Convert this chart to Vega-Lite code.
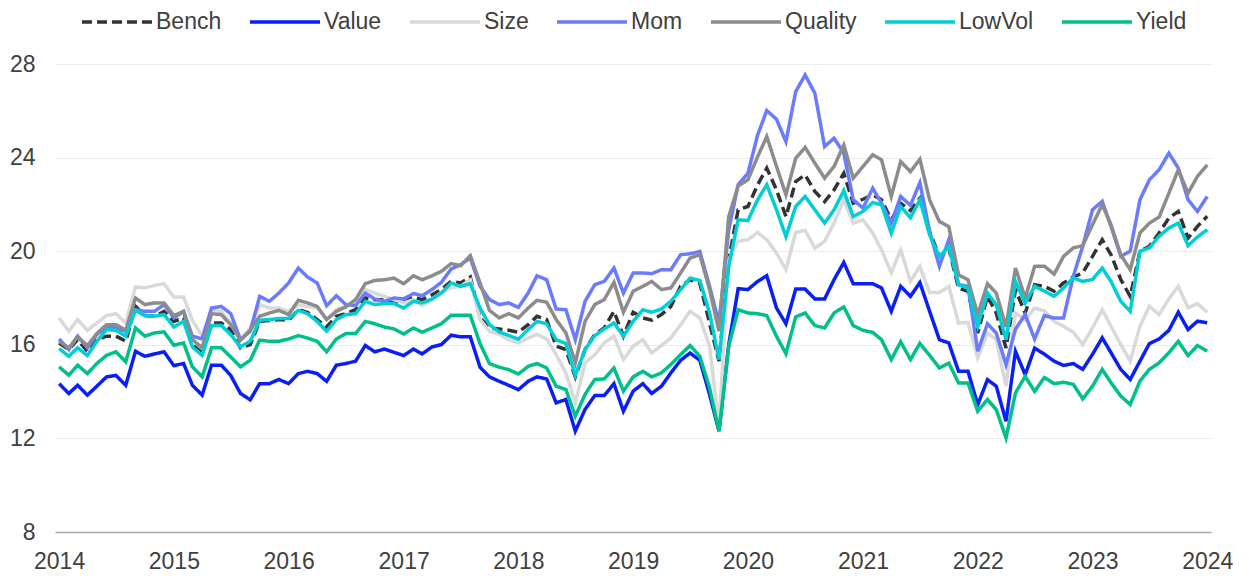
{
"$schema":"https://vega.github.io/schema/vega-lite/v6.json",
"width":1156,"height":468,
"autosize":"none",
"padding":{"left":55,"top":64,"right":38,"bottom":46},
"background":"white",
"config":{"view":{"stroke":null},"font":"Liberation Sans"},
"data":{"values":[
{"date":"2014-01","series":"Bench","value":16.08},{"date":"2014-02","series":"Bench","value":15.80},{"date":"2014-03","series":"Bench","value":16.22},{"date":"2014-04","series":"Bench","value":15.72},{"date":"2014-05","series":"Bench","value":16.22},{"date":"2014-06","series":"Bench","value":16.37},{"date":"2014-07","series":"Bench","value":16.37},{"date":"2014-08","series":"Bench","value":16.15},{"date":"2014-09","series":"Bench","value":17.64},{"date":"2014-10","series":"Bench","value":17.25},{"date":"2014-11","series":"Bench","value":17.22},{"date":"2014-12","series":"Bench","value":17.43},
{"date":"2015-01","series":"Bench","value":17.00},{"date":"2015-02","series":"Bench","value":17.15},{"date":"2015-03","series":"Bench","value":16.01},{"date":"2015-04","series":"Bench","value":15.65},{"date":"2015-05","series":"Bench","value":16.93},{"date":"2015-06","series":"Bench","value":16.93},{"date":"2015-07","series":"Bench","value":16.65},{"date":"2015-08","series":"Bench","value":15.87},{"date":"2015-09","series":"Bench","value":16.01},{"date":"2015-10","series":"Bench","value":17.00},{"date":"2015-11","series":"Bench","value":17.04},{"date":"2015-12","series":"Bench","value":17.08},
{"date":"2016-01","series":"Bench","value":17.05},{"date":"2016-02","series":"Bench","value":17.50},{"date":"2016-03","series":"Bench","value":17.39},{"date":"2016-04","series":"Bench","value":17.08},{"date":"2016-05","series":"Bench","value":16.76},{"date":"2016-06","series":"Bench","value":17.22},{"date":"2016-07","series":"Bench","value":17.33},{"date":"2016-08","series":"Bench","value":17.50},{"date":"2016-09","series":"Bench","value":18.00},{"date":"2016-10","series":"Bench","value":17.93},{"date":"2016-11","series":"Bench","value":17.93},{"date":"2016-12","series":"Bench","value":17.79},
{"date":"2017-01","series":"Bench","value":17.90},{"date":"2017-02","series":"Bench","value":18.04},{"date":"2017-03","series":"Bench","value":17.93},{"date":"2017-04","series":"Bench","value":18.14},{"date":"2017-05","series":"Bench","value":18.36},{"date":"2017-06","series":"Bench","value":18.71},{"date":"2017-07","series":"Bench","value":18.64},{"date":"2017-08","series":"Bench","value":18.90},{"date":"2017-09","series":"Bench","value":17.15},{"date":"2017-10","series":"Bench","value":16.72},{"date":"2017-11","series":"Bench","value":16.68},{"date":"2017-12","series":"Bench","value":16.62},
{"date":"2018-01","series":"Bench","value":16.54},{"date":"2018-02","series":"Bench","value":16.86},{"date":"2018-03","series":"Bench","value":17.22},{"date":"2018-04","series":"Bench","value":17.08},{"date":"2018-05","series":"Bench","value":15.94},{"date":"2018-06","series":"Bench","value":15.80},{"date":"2018-07","series":"Bench","value":14.63},{"date":"2018-08","series":"Bench","value":15.80},{"date":"2018-09","series":"Bench","value":16.44},{"date":"2018-10","series":"Bench","value":16.72},{"date":"2018-11","series":"Bench","value":17.43},{"date":"2018-12","series":"Bench","value":16.37},
{"date":"2019-01","series":"Bench","value":17.39},{"date":"2019-02","series":"Bench","value":17.15},{"date":"2019-03","series":"Bench","value":17.05},{"date":"2019-04","series":"Bench","value":17.29},{"date":"2019-05","series":"Bench","value":17.64},{"date":"2019-06","series":"Bench","value":18.50},{"date":"2019-07","series":"Bench","value":18.78},{"date":"2019-08","series":"Bench","value":18.64},{"date":"2019-09","series":"Bench","value":16.93},{"date":"2019-10","series":"Bench","value":15.30},{"date":"2019-11","series":"Bench","value":19.64},{"date":"2019-12","series":"Bench","value":21.77},
{"date":"2020-01","series":"Bench","value":21.91},{"date":"2020-02","series":"Bench","value":22.84},{"date":"2020-03","series":"Bench","value":23.55},{"date":"2020-04","series":"Bench","value":22.62},{"date":"2020-05","series":"Bench","value":21.48},{"date":"2020-06","series":"Bench","value":22.98},{"date":"2020-07","series":"Bench","value":23.26},{"date":"2020-08","series":"Bench","value":22.55},{"date":"2020-09","series":"Bench","value":22.12},{"date":"2020-10","series":"Bench","value":22.62},{"date":"2020-11","series":"Bench","value":23.33},{"date":"2020-12","series":"Bench","value":22.05},
{"date":"2021-01","series":"Bench","value":22.22},{"date":"2021-02","series":"Bench","value":22.41},{"date":"2021-03","series":"Bench","value":22.20},{"date":"2021-04","series":"Bench","value":21.34},{"date":"2021-05","series":"Bench","value":22.05},{"date":"2021-06","series":"Bench","value":21.74},{"date":"2021-07","series":"Bench","value":22.26},{"date":"2021-08","series":"Bench","value":20.84},{"date":"2021-09","series":"Bench","value":19.77},{"date":"2021-10","series":"Bench","value":20.13},{"date":"2021-11","series":"Bench","value":18.42},{"date":"2021-12","series":"Bench","value":18.28},
{"date":"2022-01","series":"Bench","value":16.50},{"date":"2022-02","series":"Bench","value":18.07},{"date":"2022-03","series":"Bench","value":17.36},{"date":"2022-04","series":"Bench","value":15.86},{"date":"2022-05","series":"Bench","value":18.35},{"date":"2022-06","series":"Bench","value":17.36},{"date":"2022-07","series":"Bench","value":18.57},{"date":"2022-08","series":"Bench","value":18.50},{"date":"2022-09","series":"Bench","value":18.29},{"date":"2022-10","series":"Bench","value":18.64},{"date":"2022-11","series":"Bench","value":18.90},{"date":"2022-12","series":"Bench","value":19.07},
{"date":"2023-01","series":"Bench","value":19.78},{"date":"2023-02","series":"Bench","value":20.49},{"date":"2023-03","series":"Bench","value":19.85},{"date":"2023-04","series":"Bench","value":18.79},{"date":"2023-05","series":"Bench","value":18.07},{"date":"2023-06","series":"Bench","value":20.00},{"date":"2023-07","series":"Bench","value":20.21},{"date":"2023-08","series":"Bench","value":20.78},{"date":"2023-09","series":"Bench","value":21.42},{"date":"2023-10","series":"Bench","value":21.70},{"date":"2023-11","series":"Bench","value":20.56},{"date":"2023-12","series":"Bench","value":21.06},
{"date":"2024-01","series":"Bench","value":21.49},
{"date":"2014-01","series":"Value","value":14.34},{"date":"2014-02","series":"Value","value":13.92},{"date":"2014-03","series":"Value","value":14.27},{"date":"2014-04","series":"Value","value":13.85},{"date":"2014-05","series":"Value","value":14.23},{"date":"2014-06","series":"Value","value":14.63},{"date":"2014-07","series":"Value","value":14.69},{"date":"2014-08","series":"Value","value":14.27},{"date":"2014-09","series":"Value","value":15.72},{"date":"2014-10","series":"Value","value":15.51},{"date":"2014-11","series":"Value","value":15.61},{"date":"2014-12","series":"Value","value":15.70},
{"date":"2015-01","series":"Value","value":15.11},{"date":"2015-02","series":"Value","value":15.20},{"date":"2015-03","series":"Value","value":14.27},{"date":"2015-04","series":"Value","value":13.85},{"date":"2015-05","series":"Value","value":15.13},{"date":"2015-06","series":"Value","value":15.13},{"date":"2015-07","series":"Value","value":14.69},{"date":"2015-08","series":"Value","value":13.92},{"date":"2015-09","series":"Value","value":13.65},{"date":"2015-10","series":"Value","value":14.34},{"date":"2015-11","series":"Value","value":14.34},{"date":"2015-12","series":"Value","value":14.52},
{"date":"2016-01","series":"Value","value":14.34},{"date":"2016-02","series":"Value","value":14.77},{"date":"2016-03","series":"Value","value":14.87},{"date":"2016-04","series":"Value","value":14.77},{"date":"2016-05","series":"Value","value":14.44},{"date":"2016-06","series":"Value","value":15.13},{"date":"2016-07","series":"Value","value":15.20},{"date":"2016-08","series":"Value","value":15.30},{"date":"2016-09","series":"Value","value":15.97},{"date":"2016-10","series":"Value","value":15.70},{"date":"2016-11","series":"Value","value":15.82},{"date":"2016-12","series":"Value","value":15.68},
{"date":"2017-01","series":"Value","value":15.54},{"date":"2017-02","series":"Value","value":15.82},{"date":"2017-03","series":"Value","value":15.61},{"date":"2017-04","series":"Value","value":15.91},{"date":"2017-05","series":"Value","value":16.01},{"date":"2017-06","series":"Value","value":16.41},{"date":"2017-07","series":"Value","value":16.34},{"date":"2017-08","series":"Value","value":16.34},{"date":"2017-09","series":"Value","value":15.04},{"date":"2017-10","series":"Value","value":14.63},{"date":"2017-11","series":"Value","value":14.44},{"date":"2017-12","series":"Value","value":14.27},
{"date":"2018-01","series":"Value","value":14.08},{"date":"2018-02","series":"Value","value":14.44},{"date":"2018-03","series":"Value","value":14.63},{"date":"2018-04","series":"Value","value":14.54},{"date":"2018-05","series":"Value","value":13.52},{"date":"2018-06","series":"Value","value":13.66},{"date":"2018-07","series":"Value","value":12.31},{"date":"2018-08","series":"Value","value":13.24},{"date":"2018-09","series":"Value","value":13.83},{"date":"2018-10","series":"Value","value":13.83},{"date":"2018-11","series":"Value","value":14.34},{"date":"2018-12","series":"Value","value":13.16},
{"date":"2019-01","series":"Value","value":14.02},{"date":"2019-02","series":"Value","value":14.34},{"date":"2019-03","series":"Value","value":13.92},{"date":"2019-04","series":"Value","value":14.23},{"date":"2019-05","series":"Value","value":14.80},{"date":"2019-06","series":"Value","value":15.34},{"date":"2019-07","series":"Value","value":15.65},{"date":"2019-08","series":"Value","value":15.34},{"date":"2019-09","series":"Value","value":13.88},{"date":"2019-10","series":"Value","value":12.31},{"date":"2019-11","series":"Value","value":16.00},{"date":"2019-12","series":"Value","value":18.40},
{"date":"2020-01","series":"Value","value":18.36},{"date":"2020-02","series":"Value","value":18.71},{"date":"2020-03","series":"Value","value":18.95},{"date":"2020-04","series":"Value","value":17.57},{"date":"2020-05","series":"Value","value":16.90},{"date":"2020-06","series":"Value","value":18.38},{"date":"2020-07","series":"Value","value":18.38},{"date":"2020-08","series":"Value","value":17.96},{"date":"2020-09","series":"Value","value":17.96},{"date":"2020-10","series":"Value","value":18.78},{"date":"2020-11","series":"Value","value":19.52},{"date":"2020-12","series":"Value","value":18.61},
{"date":"2021-01","series":"Value","value":18.61},{"date":"2021-02","series":"Value","value":18.61},{"date":"2021-03","series":"Value","value":18.43},{"date":"2021-04","series":"Value","value":17.43},{"date":"2021-05","series":"Value","value":18.50},{"date":"2021-06","series":"Value","value":18.07},{"date":"2021-07","series":"Value","value":18.66},{"date":"2021-08","series":"Value","value":17.43},{"date":"2021-09","series":"Value","value":16.22},{"date":"2021-10","series":"Value","value":16.08},{"date":"2021-11","series":"Value","value":14.87},{"date":"2021-12","series":"Value","value":14.87},
{"date":"2022-01","series":"Value","value":13.44},{"date":"2022-02","series":"Value","value":14.51},{"date":"2022-03","series":"Value","value":14.23},{"date":"2022-04","series":"Value","value":12.73},{"date":"2022-05","series":"Value","value":15.72},{"date":"2022-06","series":"Value","value":14.72},{"date":"2022-07","series":"Value","value":15.86},{"date":"2022-08","series":"Value","value":15.60},{"date":"2022-09","series":"Value","value":15.30},{"date":"2022-10","series":"Value","value":15.12},{"date":"2022-11","series":"Value","value":15.20},{"date":"2022-12","series":"Value","value":14.95},
{"date":"2023-01","series":"Value","value":15.59},{"date":"2023-02","series":"Value","value":16.30},{"date":"2023-03","series":"Value","value":15.66},{"date":"2023-04","series":"Value","value":14.95},{"date":"2023-05","series":"Value","value":14.52},{"date":"2023-06","series":"Value","value":15.30},{"date":"2023-07","series":"Value","value":16.05},{"date":"2023-08","series":"Value","value":16.25},{"date":"2023-09","series":"Value","value":16.62},{"date":"2023-10","series":"Value","value":17.39},{"date":"2023-11","series":"Value","value":16.65},{"date":"2023-12","series":"Value","value":17.01},
{"date":"2024-01","series":"Value","value":16.94},
{"date":"2014-01","series":"Size","value":17.15},{"date":"2014-02","series":"Size","value":16.58},{"date":"2014-03","series":"Size","value":17.08},{"date":"2014-04","series":"Size","value":16.62},{"date":"2014-05","series":"Size","value":16.93},{"date":"2014-06","series":"Size","value":17.25},{"date":"2014-07","series":"Size","value":17.33},{"date":"2014-08","series":"Size","value":16.93},{"date":"2014-09","series":"Size","value":18.47},{"date":"2014-10","series":"Size","value":18.43},{"date":"2014-11","series":"Size","value":18.54},{"date":"2014-12","series":"Size","value":18.61},
{"date":"2015-01","series":"Size","value":18.04},{"date":"2015-02","series":"Size","value":18.04},{"date":"2015-03","series":"Size","value":17.05},{"date":"2015-04","series":"Size","value":16.37},{"date":"2015-05","series":"Size","value":17.50},{"date":"2015-06","series":"Size","value":17.43},{"date":"2015-07","series":"Size","value":16.93},{"date":"2015-08","series":"Size","value":16.22},{"date":"2015-09","series":"Size","value":16.72},{"date":"2015-10","series":"Size","value":17.72},{"date":"2015-11","series":"Size","value":17.57},{"date":"2015-12","series":"Size","value":17.57},
{"date":"2016-01","series":"Size","value":17.43},{"date":"2016-02","series":"Size","value":17.70},{"date":"2016-03","series":"Size","value":17.64},{"date":"2016-04","series":"Size","value":17.57},{"date":"2016-05","series":"Size","value":17.08},{"date":"2016-06","series":"Size","value":17.50},{"date":"2016-07","series":"Size","value":17.64},{"date":"2016-08","series":"Size","value":17.86},{"date":"2016-09","series":"Size","value":18.36},{"date":"2016-10","series":"Size","value":18.21},{"date":"2016-11","series":"Size","value":18.07},{"date":"2016-12","series":"Size","value":17.93},
{"date":"2017-01","series":"Size","value":17.79},{"date":"2017-02","series":"Size","value":17.93},{"date":"2017-03","series":"Size","value":17.67},{"date":"2017-04","series":"Size","value":17.93},{"date":"2017-05","series":"Size","value":18.24},{"date":"2017-06","series":"Size","value":18.43},{"date":"2017-07","series":"Size","value":18.50},{"date":"2017-08","series":"Size","value":18.78},{"date":"2017-09","series":"Size","value":17.08},{"date":"2017-10","series":"Size","value":16.58},{"date":"2017-11","series":"Size","value":16.44},{"date":"2017-12","series":"Size","value":16.22},
{"date":"2018-01","series":"Size","value":16.08},{"date":"2018-02","series":"Size","value":16.29},{"date":"2018-03","series":"Size","value":16.44},{"date":"2018-04","series":"Size","value":16.25},{"date":"2018-05","series":"Size","value":15.58},{"date":"2018-06","series":"Size","value":14.80},{"date":"2018-07","series":"Size","value":13.52},{"date":"2018-08","series":"Size","value":15.23},{"date":"2018-09","series":"Size","value":15.58},{"date":"2018-10","series":"Size","value":16.08},{"date":"2018-11","series":"Size","value":16.37},{"date":"2018-12","series":"Size","value":15.37},
{"date":"2019-01","series":"Size","value":15.94},{"date":"2019-02","series":"Size","value":16.22},{"date":"2019-03","series":"Size","value":15.65},{"date":"2019-04","series":"Size","value":15.97},{"date":"2019-05","series":"Size","value":16.29},{"date":"2019-06","series":"Size","value":16.86},{"date":"2019-07","series":"Size","value":17.43},{"date":"2019-08","series":"Size","value":17.15},{"date":"2019-09","series":"Size","value":15.94},{"date":"2019-10","series":"Size","value":12.52},{"date":"2019-11","series":"Size","value":19.64},{"date":"2019-12","series":"Size","value":20.42},
{"date":"2020-01","series":"Size","value":20.49},{"date":"2020-02","series":"Size","value":20.80},{"date":"2020-03","series":"Size","value":20.49},{"date":"2020-04","series":"Size","value":19.92},{"date":"2020-05","series":"Size","value":19.21},{"date":"2020-06","series":"Size","value":20.80},{"date":"2020-07","series":"Size","value":20.89},{"date":"2020-08","series":"Size","value":20.13},{"date":"2020-09","series":"Size","value":20.42},{"date":"2020-10","series":"Size","value":21.20},{"date":"2020-11","series":"Size","value":22.20},{"date":"2020-12","series":"Size","value":21.20},
{"date":"2021-01","series":"Size","value":21.34},{"date":"2021-02","series":"Size","value":20.77},{"date":"2021-03","series":"Size","value":20.06},{"date":"2021-04","series":"Size","value":19.07},{"date":"2021-05","series":"Size","value":20.06},{"date":"2021-06","series":"Size","value":18.71},{"date":"2021-07","series":"Size","value":19.35},{"date":"2021-08","series":"Size","value":18.24},{"date":"2021-09","series":"Size","value":18.24},{"date":"2021-10","series":"Size","value":18.50},{"date":"2021-11","series":"Size","value":16.93},{"date":"2021-12","series":"Size","value":16.96},
{"date":"2022-01","series":"Size","value":15.44},{"date":"2022-02","series":"Size","value":16.50},{"date":"2022-03","series":"Size","value":16.22},{"date":"2022-04","series":"Size","value":14.23},{"date":"2022-05","series":"Size","value":17.36},{"date":"2022-06","series":"Size","value":17.07},{"date":"2022-07","series":"Size","value":17.57},{"date":"2022-08","series":"Size","value":17.45},{"date":"2022-09","series":"Size","value":17.00},{"date":"2022-10","series":"Size","value":16.79},{"date":"2022-11","series":"Size","value":16.54},{"date":"2022-12","series":"Size","value":16.01},
{"date":"2023-01","series":"Size","value":16.72},{"date":"2023-02","series":"Size","value":17.50},{"date":"2023-03","series":"Size","value":16.79},{"date":"2023-04","series":"Size","value":16.01},{"date":"2023-05","series":"Size","value":15.30},{"date":"2023-06","series":"Size","value":16.79},{"date":"2023-07","series":"Size","value":17.65},{"date":"2023-08","series":"Size","value":17.29},{"date":"2023-09","series":"Size","value":17.96},{"date":"2023-10","series":"Size","value":18.50},{"date":"2023-11","series":"Size","value":17.58},{"date":"2023-12","series":"Size","value":17.76},
{"date":"2024-01","series":"Size","value":17.39},
{"date":"2014-01","series":"Mom","value":16.25},{"date":"2014-02","series":"Mom","value":15.80},{"date":"2014-03","series":"Mom","value":16.37},{"date":"2014-04","series":"Mom","value":15.87},{"date":"2014-05","series":"Mom","value":16.44},{"date":"2014-06","series":"Mom","value":16.76},{"date":"2014-07","series":"Mom","value":16.72},{"date":"2014-08","series":"Mom","value":16.58},{"date":"2014-09","series":"Mom","value":17.50},{"date":"2014-10","series":"Mom","value":17.43},{"date":"2014-11","series":"Mom","value":17.43},{"date":"2014-12","series":"Mom","value":17.72},
{"date":"2015-01","series":"Mom","value":17.15},{"date":"2015-02","series":"Mom","value":17.43},{"date":"2015-03","series":"Mom","value":16.37},{"date":"2015-04","series":"Mom","value":16.25},{"date":"2015-05","series":"Mom","value":17.57},{"date":"2015-06","series":"Mom","value":17.64},{"date":"2015-07","series":"Mom","value":17.33},{"date":"2015-08","series":"Mom","value":16.22},{"date":"2015-09","series":"Mom","value":16.58},{"date":"2015-10","series":"Mom","value":18.07},{"date":"2015-11","series":"Mom","value":17.86},{"date":"2015-12","series":"Mom","value":18.21},
{"date":"2016-01","series":"Mom","value":18.64},{"date":"2016-02","series":"Mom","value":19.28},{"date":"2016-03","series":"Mom","value":18.90},{"date":"2016-04","series":"Mom","value":18.64},{"date":"2016-05","series":"Mom","value":17.67},{"date":"2016-06","series":"Mom","value":18.10},{"date":"2016-07","series":"Mom","value":17.72},{"date":"2016-08","series":"Mom","value":17.67},{"date":"2016-09","series":"Mom","value":18.21},{"date":"2016-10","series":"Mom","value":17.96},{"date":"2016-11","series":"Mom","value":17.86},{"date":"2016-12","series":"Mom","value":18.00},
{"date":"2017-01","series":"Mom","value":17.96},{"date":"2017-02","series":"Mom","value":18.19},{"date":"2017-03","series":"Mom","value":18.10},{"date":"2017-04","series":"Mom","value":18.36},{"date":"2017-05","series":"Mom","value":18.67},{"date":"2017-06","series":"Mom","value":19.24},{"date":"2017-07","series":"Mom","value":19.42},{"date":"2017-08","series":"Mom","value":19.71},{"date":"2017-09","series":"Mom","value":18.50},{"date":"2017-10","series":"Mom","value":17.93},{"date":"2017-11","series":"Mom","value":17.72},{"date":"2017-12","series":"Mom","value":17.79},
{"date":"2018-01","series":"Mom","value":17.60},{"date":"2018-02","series":"Mom","value":18.21},{"date":"2018-03","series":"Mom","value":18.95},{"date":"2018-04","series":"Mom","value":18.78},{"date":"2018-05","series":"Mom","value":17.53},{"date":"2018-06","series":"Mom","value":17.50},{"date":"2018-07","series":"Mom","value":16.22},{"date":"2018-08","series":"Mom","value":17.86},{"date":"2018-09","series":"Mom","value":18.57},{"date":"2018-10","series":"Mom","value":18.71},{"date":"2018-11","series":"Mom","value":19.28},{"date":"2018-12","series":"Mom","value":18.21},
{"date":"2019-01","series":"Mom","value":19.07},{"date":"2019-02","series":"Mom","value":19.07},{"date":"2019-03","series":"Mom","value":19.04},{"date":"2019-04","series":"Mom","value":19.21},{"date":"2019-05","series":"Mom","value":19.21},{"date":"2019-06","series":"Mom","value":19.85},{"date":"2019-07","series":"Mom","value":19.89},{"date":"2019-08","series":"Mom","value":19.99},{"date":"2019-09","series":"Mom","value":18.50},{"date":"2019-10","series":"Mom","value":16.93},{"date":"2019-11","series":"Mom","value":20.92},{"date":"2019-12","series":"Mom","value":22.84},
{"date":"2020-01","series":"Mom","value":23.33},{"date":"2020-02","series":"Mom","value":24.97},{"date":"2020-03","series":"Mom","value":26.01},{"date":"2020-04","series":"Mom","value":25.64},{"date":"2020-05","series":"Mom","value":24.68},{"date":"2020-06","series":"Mom","value":26.82},{"date":"2020-07","series":"Mom","value":27.53},{"date":"2020-08","series":"Mom","value":26.75},{"date":"2020-09","series":"Mom","value":24.47},{"date":"2020-10","series":"Mom","value":24.83},{"date":"2020-11","series":"Mom","value":24.19},{"date":"2020-12","series":"Mom","value":22.20},
{"date":"2021-01","series":"Mom","value":21.84},{"date":"2021-02","series":"Mom","value":22.69},{"date":"2021-03","series":"Mom","value":22.05},{"date":"2021-04","series":"Mom","value":21.20},{"date":"2021-05","series":"Mom","value":22.34},{"date":"2021-06","series":"Mom","value":21.96},{"date":"2021-07","series":"Mom","value":22.93},{"date":"2021-08","series":"Mom","value":20.84},{"date":"2021-09","series":"Mom","value":19.35},{"date":"2021-10","series":"Mom","value":20.49},{"date":"2021-11","series":"Mom","value":18.57},{"date":"2021-12","series":"Mom","value":18.50},
{"date":"2022-01","series":"Mom","value":15.72},{"date":"2022-02","series":"Mom","value":16.90},{"date":"2022-03","series":"Mom","value":16.50},{"date":"2022-04","series":"Mom","value":15.15},{"date":"2022-05","series":"Mom","value":16.67},{"date":"2022-06","series":"Mom","value":17.29},{"date":"2022-07","series":"Mom","value":16.25},{"date":"2022-08","series":"Mom","value":17.25},{"date":"2022-09","series":"Mom","value":17.14},{"date":"2022-10","series":"Mom","value":17.15},{"date":"2022-11","series":"Mom","value":18.93},{"date":"2022-12","series":"Mom","value":20.21},
{"date":"2023-01","series":"Mom","value":21.77},{"date":"2023-02","series":"Mom","value":22.13},{"date":"2023-03","series":"Mom","value":21.06},{"date":"2023-04","series":"Mom","value":19.78},{"date":"2023-05","series":"Mom","value":20.00},{"date":"2023-06","series":"Mom","value":22.20},{"date":"2023-07","series":"Mom","value":23.05},{"date":"2023-08","series":"Mom","value":23.48},{"date":"2023-09","series":"Mom","value":24.19},{"date":"2023-10","series":"Mom","value":23.55},{"date":"2023-11","series":"Mom","value":22.20},{"date":"2023-12","series":"Mom","value":21.70},
{"date":"2024-01","series":"Mom","value":22.34},
{"date":"2014-01","series":"Quality","value":16.15},{"date":"2014-02","series":"Quality","value":15.87},{"date":"2014-03","series":"Quality","value":16.34},{"date":"2014-04","series":"Quality","value":15.97},{"date":"2014-05","series":"Quality","value":16.48},{"date":"2014-06","series":"Quality","value":16.86},{"date":"2014-07","series":"Quality","value":16.86},{"date":"2014-08","series":"Quality","value":16.62},{"date":"2014-09","series":"Quality","value":18.00},{"date":"2014-10","series":"Quality","value":17.72},{"date":"2014-11","series":"Quality","value":17.79},{"date":"2014-12","series":"Quality","value":17.79},
{"date":"2015-01","series":"Quality","value":17.25},{"date":"2015-02","series":"Quality","value":17.43},{"date":"2015-03","series":"Quality","value":16.22},{"date":"2015-04","series":"Quality","value":15.87},{"date":"2015-05","series":"Quality","value":17.33},{"date":"2015-06","series":"Quality","value":17.29},{"date":"2015-07","series":"Quality","value":16.86},{"date":"2015-08","series":"Quality","value":16.20},{"date":"2015-09","series":"Quality","value":16.62},{"date":"2015-10","series":"Quality","value":17.22},{"date":"2015-11","series":"Quality","value":17.36},{"date":"2015-12","series":"Quality","value":17.47},
{"date":"2016-01","series":"Quality","value":17.29},{"date":"2016-02","series":"Quality","value":17.90},{"date":"2016-03","series":"Quality","value":17.79},{"date":"2016-04","series":"Quality","value":17.64},{"date":"2016-05","series":"Quality","value":17.08},{"date":"2016-06","series":"Quality","value":17.43},{"date":"2016-07","series":"Quality","value":17.62},{"date":"2016-08","series":"Quality","value":17.93},{"date":"2016-09","series":"Quality","value":18.61},{"date":"2016-10","series":"Quality","value":18.75},{"date":"2016-11","series":"Quality","value":18.78},{"date":"2016-12","series":"Quality","value":18.85},
{"date":"2017-01","series":"Quality","value":18.61},{"date":"2017-02","series":"Quality","value":18.95},{"date":"2017-03","series":"Quality","value":18.78},{"date":"2017-04","series":"Quality","value":18.95},{"date":"2017-05","series":"Quality","value":19.14},{"date":"2017-06","series":"Quality","value":19.47},{"date":"2017-07","series":"Quality","value":19.38},{"date":"2017-08","series":"Quality","value":19.81},{"date":"2017-09","series":"Quality","value":18.64},{"date":"2017-10","series":"Quality","value":17.47},{"date":"2017-11","series":"Quality","value":17.15},{"date":"2017-12","series":"Quality","value":17.33},
{"date":"2018-01","series":"Quality","value":17.15},{"date":"2018-02","series":"Quality","value":17.57},{"date":"2018-03","series":"Quality","value":17.90},{"date":"2018-04","series":"Quality","value":17.82},{"date":"2018-05","series":"Quality","value":17.08},{"date":"2018-06","series":"Quality","value":16.51},{"date":"2018-07","series":"Quality","value":15.23},{"date":"2018-08","series":"Quality","value":17.00},{"date":"2018-09","series":"Quality","value":17.72},{"date":"2018-10","series":"Quality","value":17.93},{"date":"2018-11","series":"Quality","value":18.67},{"date":"2018-12","series":"Quality","value":17.39},
{"date":"2019-01","series":"Quality","value":18.29},{"date":"2019-02","series":"Quality","value":18.50},{"date":"2019-03","series":"Quality","value":18.71},{"date":"2019-04","series":"Quality","value":18.36},{"date":"2019-05","series":"Quality","value":18.43},{"date":"2019-06","series":"Quality","value":19.07},{"date":"2019-07","series":"Quality","value":19.71},{"date":"2019-08","series":"Quality","value":19.85},{"date":"2019-09","series":"Quality","value":18.36},{"date":"2019-10","series":"Quality","value":16.58},{"date":"2019-11","series":"Quality","value":21.48},{"date":"2019-12","series":"Quality","value":22.79},
{"date":"2020-01","series":"Quality","value":23.05},{"date":"2020-02","series":"Quality","value":24.04},{"date":"2020-03","series":"Quality","value":24.90},{"date":"2020-04","series":"Quality","value":23.62},{"date":"2020-05","series":"Quality","value":22.41},{"date":"2020-06","series":"Quality","value":23.97},{"date":"2020-07","series":"Quality","value":24.44},{"date":"2020-08","series":"Quality","value":23.76},{"date":"2020-09","series":"Quality","value":23.12},{"date":"2020-10","series":"Quality","value":23.62},{"date":"2020-11","series":"Quality","value":24.54},{"date":"2020-12","series":"Quality","value":23.12},
{"date":"2021-01","series":"Quality","value":23.62},{"date":"2021-02","series":"Quality","value":24.12},{"date":"2021-03","series":"Quality","value":23.90},{"date":"2021-04","series":"Quality","value":22.34},{"date":"2021-05","series":"Quality","value":23.83},{"date":"2021-06","series":"Quality","value":23.40},{"date":"2021-07","series":"Quality","value":23.93},{"date":"2021-08","series":"Quality","value":22.19},{"date":"2021-09","series":"Quality","value":21.27},{"date":"2021-10","series":"Quality","value":21.05},{"date":"2021-11","series":"Quality","value":18.99},{"date":"2021-12","series":"Quality","value":18.78},
{"date":"2022-01","series":"Quality","value":17.29},{"date":"2022-02","series":"Quality","value":18.61},{"date":"2022-03","series":"Quality","value":18.21},{"date":"2022-04","series":"Quality","value":16.76},{"date":"2022-05","series":"Quality","value":19.28},{"date":"2022-06","series":"Quality","value":18.00},{"date":"2022-07","series":"Quality","value":19.35},{"date":"2022-08","series":"Quality","value":19.36},{"date":"2022-09","series":"Quality","value":19.02},{"date":"2022-10","series":"Quality","value":19.78},{"date":"2022-11","series":"Quality","value":20.14},{"date":"2022-12","series":"Quality","value":20.24},
{"date":"2023-01","series":"Quality","value":21.13},{"date":"2023-02","series":"Quality","value":21.99},{"date":"2023-03","series":"Quality","value":21.13},{"date":"2023-04","series":"Quality","value":19.85},{"date":"2023-05","series":"Quality","value":19.21},{"date":"2023-06","series":"Quality","value":20.78},{"date":"2023-07","series":"Quality","value":21.20},{"date":"2023-08","series":"Quality","value":21.46},{"date":"2023-09","series":"Quality","value":22.48},{"date":"2023-10","series":"Quality","value":23.48},{"date":"2023-11","series":"Quality","value":22.48},{"date":"2023-12","series":"Quality","value":23.20},
{"date":"2024-01","series":"Quality","value":23.69},
{"date":"2014-01","series":"LowVol","value":15.84},{"date":"2014-02","series":"LowVol","value":15.51},{"date":"2014-03","series":"LowVol","value":15.87},{"date":"2014-04","series":"LowVol","value":15.54},{"date":"2014-05","series":"LowVol","value":16.15},{"date":"2014-06","series":"LowVol","value":16.65},{"date":"2014-07","series":"LowVol","value":16.62},{"date":"2014-08","series":"LowVol","value":16.37},{"date":"2014-09","series":"LowVol","value":17.47},{"date":"2014-10","series":"LowVol","value":17.25},{"date":"2014-11","series":"LowVol","value":17.22},{"date":"2014-12","series":"LowVol","value":17.29},
{"date":"2015-01","series":"LowVol","value":16.76},{"date":"2015-02","series":"LowVol","value":17.00},{"date":"2015-03","series":"LowVol","value":15.91},{"date":"2015-04","series":"LowVol","value":15.55},{"date":"2015-05","series":"LowVol","value":16.82},{"date":"2015-06","series":"LowVol","value":16.82},{"date":"2015-07","series":"LowVol","value":16.44},{"date":"2015-08","series":"LowVol","value":15.91},{"date":"2015-09","series":"LowVol","value":16.15},{"date":"2015-10","series":"LowVol","value":17.05},{"date":"2015-11","series":"LowVol","value":17.08},{"date":"2015-12","series":"LowVol","value":17.12},
{"date":"2016-01","series":"LowVol","value":17.12},{"date":"2016-02","series":"LowVol","value":17.47},{"date":"2016-03","series":"LowVol","value":17.33},{"date":"2016-04","series":"LowVol","value":17.00},{"date":"2016-05","series":"LowVol","value":16.58},{"date":"2016-06","series":"LowVol","value":17.08},{"date":"2016-07","series":"LowVol","value":17.29},{"date":"2016-08","series":"LowVol","value":17.33},{"date":"2016-09","series":"LowVol","value":17.86},{"date":"2016-10","series":"LowVol","value":17.72},{"date":"2016-11","series":"LowVol","value":17.76},{"date":"2016-12","series":"LowVol","value":17.76},
{"date":"2017-01","series":"LowVol","value":17.57},{"date":"2017-02","series":"LowVol","value":17.86},{"date":"2017-03","series":"LowVol","value":17.79},{"date":"2017-04","series":"LowVol","value":17.96},{"date":"2017-05","series":"LowVol","value":18.21},{"date":"2017-06","series":"LowVol","value":18.64},{"date":"2017-07","series":"LowVol","value":18.50},{"date":"2017-08","series":"LowVol","value":18.61},{"date":"2017-09","series":"LowVol","value":17.57},{"date":"2017-10","series":"LowVol","value":16.86},{"date":"2017-11","series":"LowVol","value":16.55},{"date":"2017-12","series":"LowVol","value":16.40},
{"date":"2018-01","series":"LowVol","value":16.24},{"date":"2018-02","series":"LowVol","value":16.65},{"date":"2018-03","series":"LowVol","value":17.00},{"date":"2018-04","series":"LowVol","value":16.90},{"date":"2018-05","series":"LowVol","value":16.22},{"date":"2018-06","series":"LowVol","value":16.05},{"date":"2018-07","series":"LowVol","value":14.69},{"date":"2018-08","series":"LowVol","value":15.80},{"date":"2018-09","series":"LowVol","value":16.39},{"date":"2018-10","series":"LowVol","value":16.68},{"date":"2018-11","series":"LowVol","value":16.93},{"date":"2018-12","series":"LowVol","value":16.37},
{"date":"2019-01","series":"LowVol","value":17.00},{"date":"2019-02","series":"LowVol","value":17.50},{"date":"2019-03","series":"LowVol","value":17.39},{"date":"2019-04","series":"LowVol","value":17.53},{"date":"2019-05","series":"LowVol","value":17.86},{"date":"2019-06","series":"LowVol","value":18.36},{"date":"2019-07","series":"LowVol","value":18.85},{"date":"2019-08","series":"LowVol","value":18.75},{"date":"2019-09","series":"LowVol","value":17.36},{"date":"2019-10","series":"LowVol","value":15.37},{"date":"2019-11","series":"LowVol","value":19.35},{"date":"2019-12","series":"LowVol","value":21.34},
{"date":"2020-01","series":"LowVol","value":21.31},{"date":"2020-02","series":"LowVol","value":22.20},{"date":"2020-03","series":"LowVol","value":22.84},{"date":"2020-04","series":"LowVol","value":21.77},{"date":"2020-05","series":"LowVol","value":20.63},{"date":"2020-06","series":"LowVol","value":21.91},{"date":"2020-07","series":"LowVol","value":22.34},{"date":"2020-08","series":"LowVol","value":21.77},{"date":"2020-09","series":"LowVol","value":21.20},{"date":"2020-10","series":"LowVol","value":21.77},{"date":"2020-11","series":"LowVol","value":22.59},{"date":"2020-12","series":"LowVol","value":21.48},
{"date":"2021-01","series":"LowVol","value":21.70},{"date":"2021-02","series":"LowVol","value":22.08},{"date":"2021-03","series":"LowVol","value":21.98},{"date":"2021-04","series":"LowVol","value":20.77},{"date":"2021-05","series":"LowVol","value":21.91},{"date":"2021-06","series":"LowVol","value":21.43},{"date":"2021-07","series":"LowVol","value":22.19},{"date":"2021-08","series":"LowVol","value":20.70},{"date":"2021-09","series":"LowVol","value":19.77},{"date":"2021-10","series":"LowVol","value":20.20},{"date":"2021-11","series":"LowVol","value":18.57},{"date":"2021-12","series":"LowVol","value":18.42},
{"date":"2022-01","series":"LowVol","value":16.79},{"date":"2022-02","series":"LowVol","value":18.21},{"date":"2022-03","series":"LowVol","value":17.71},{"date":"2022-04","series":"LowVol","value":16.22},{"date":"2022-05","series":"LowVol","value":18.71},{"date":"2022-06","series":"LowVol","value":17.78},{"date":"2022-07","series":"LowVol","value":18.50},{"date":"2022-08","series":"LowVol","value":18.30},{"date":"2022-09","series":"LowVol","value":18.07},{"date":"2022-10","series":"LowVol","value":18.43},{"date":"2022-11","series":"LowVol","value":18.86},{"date":"2022-12","series":"LowVol","value":18.71},
{"date":"2023-01","series":"LowVol","value":18.79},{"date":"2023-02","series":"LowVol","value":19.28},{"date":"2023-03","series":"LowVol","value":18.71},{"date":"2023-04","series":"LowVol","value":17.86},{"date":"2023-05","series":"LowVol","value":17.43},{"date":"2023-06","series":"LowVol","value":20.00},{"date":"2023-07","series":"LowVol","value":20.14},{"date":"2023-08","series":"LowVol","value":20.64},{"date":"2023-09","series":"LowVol","value":20.99},{"date":"2023-10","series":"LowVol","value":21.20},{"date":"2023-11","series":"LowVol","value":20.24},{"date":"2023-12","series":"LowVol","value":20.61},
{"date":"2024-01","series":"LowVol","value":20.92},
{"date":"2014-01","series":"Yield","value":15.06},{"date":"2014-02","series":"Yield","value":14.70},{"date":"2014-03","series":"Yield","value":15.13},{"date":"2014-04","series":"Yield","value":14.77},{"date":"2014-05","series":"Yield","value":15.20},{"date":"2014-06","series":"Yield","value":15.55},{"date":"2014-07","series":"Yield","value":15.70},{"date":"2014-08","series":"Yield","value":15.27},{"date":"2014-09","series":"Yield","value":16.72},{"date":"2014-10","series":"Yield","value":16.37},{"date":"2014-11","series":"Yield","value":16.51},{"date":"2014-12","series":"Yield","value":16.55},
{"date":"2015-01","series":"Yield","value":15.98},{"date":"2015-02","series":"Yield","value":16.08},{"date":"2015-03","series":"Yield","value":15.06},{"date":"2015-04","series":"Yield","value":14.63},{"date":"2015-05","series":"Yield","value":15.87},{"date":"2015-06","series":"Yield","value":15.87},{"date":"2015-07","series":"Yield","value":15.48},{"date":"2015-08","series":"Yield","value":15.06},{"date":"2015-09","series":"Yield","value":15.34},{"date":"2015-10","series":"Yield","value":16.20},{"date":"2015-11","series":"Yield","value":16.15},{"date":"2015-12","series":"Yield","value":16.15},
{"date":"2016-01","series":"Yield","value":16.25},{"date":"2016-02","series":"Yield","value":16.39},{"date":"2016-03","series":"Yield","value":16.29},{"date":"2016-04","series":"Yield","value":16.15},{"date":"2016-05","series":"Yield","value":15.70},{"date":"2016-06","series":"Yield","value":16.25},{"date":"2016-07","series":"Yield","value":16.48},{"date":"2016-08","series":"Yield","value":16.48},{"date":"2016-09","series":"Yield","value":17.00},{"date":"2016-10","series":"Yield","value":16.90},{"date":"2016-11","series":"Yield","value":16.76},{"date":"2016-12","series":"Yield","value":16.68},
{"date":"2017-01","series":"Yield","value":16.46},{"date":"2017-02","series":"Yield","value":16.72},{"date":"2017-03","series":"Yield","value":16.54},{"date":"2017-04","series":"Yield","value":16.72},{"date":"2017-05","series":"Yield","value":16.90},{"date":"2017-06","series":"Yield","value":17.26},{"date":"2017-07","series":"Yield","value":17.26},{"date":"2017-08","series":"Yield","value":17.26},{"date":"2017-09","series":"Yield","value":16.05},{"date":"2017-10","series":"Yield","value":15.20},{"date":"2017-11","series":"Yield","value":15.04},{"date":"2017-12","series":"Yield","value":14.94},
{"date":"2018-01","series":"Yield","value":14.75},{"date":"2018-02","series":"Yield","value":15.08},{"date":"2018-03","series":"Yield","value":15.20},{"date":"2018-04","series":"Yield","value":15.01},{"date":"2018-05","series":"Yield","value":14.23},{"date":"2018-06","series":"Yield","value":14.09},{"date":"2018-07","series":"Yield","value":12.95},{"date":"2018-08","series":"Yield","value":13.88},{"date":"2018-09","series":"Yield","value":14.52},{"date":"2018-10","series":"Yield","value":14.54},{"date":"2018-11","series":"Yield","value":15.01},{"date":"2018-12","series":"Yield","value":14.02},
{"date":"2019-01","series":"Yield","value":14.63},{"date":"2019-02","series":"Yield","value":14.87},{"date":"2019-03","series":"Yield","value":14.63},{"date":"2019-04","series":"Yield","value":14.80},{"date":"2019-05","series":"Yield","value":15.16},{"date":"2019-06","series":"Yield","value":15.58},{"date":"2019-07","series":"Yield","value":15.97},{"date":"2019-08","series":"Yield","value":15.51},{"date":"2019-09","series":"Yield","value":14.16},{"date":"2019-10","series":"Yield","value":12.31},{"date":"2019-11","series":"Yield","value":15.94},{"date":"2019-12","series":"Yield","value":17.50},
{"date":"2020-01","series":"Yield","value":17.36},{"date":"2020-02","series":"Yield","value":17.33},{"date":"2020-03","series":"Yield","value":17.25},{"date":"2020-04","series":"Yield","value":16.36},{"date":"2020-05","series":"Yield","value":15.62},{"date":"2020-06","series":"Yield","value":17.19},{"date":"2020-07","series":"Yield","value":17.36},{"date":"2020-08","series":"Yield","value":16.82},{"date":"2020-09","series":"Yield","value":16.72},{"date":"2020-10","series":"Yield","value":17.36},{"date":"2020-11","series":"Yield","value":17.62},{"date":"2020-12","series":"Yield","value":16.82},
{"date":"2021-01","series":"Yield","value":16.62},{"date":"2021-02","series":"Yield","value":16.53},{"date":"2021-03","series":"Yield","value":16.22},{"date":"2021-04","series":"Yield","value":15.37},{"date":"2021-05","series":"Yield","value":16.13},{"date":"2021-06","series":"Yield","value":15.37},{"date":"2021-07","series":"Yield","value":16.06},{"date":"2021-08","series":"Yield","value":15.55},{"date":"2021-09","series":"Yield","value":15.01},{"date":"2021-10","series":"Yield","value":15.22},{"date":"2021-11","series":"Yield","value":14.37},{"date":"2021-12","series":"Yield","value":14.37},
{"date":"2022-01","series":"Yield","value":13.16},{"date":"2022-02","series":"Yield","value":13.66},{"date":"2022-03","series":"Yield","value":13.23},{"date":"2022-04","series":"Yield","value":12.02},{"date":"2022-05","series":"Yield","value":13.94},{"date":"2022-06","series":"Yield","value":14.65},{"date":"2022-07","series":"Yield","value":14.01},{"date":"2022-08","series":"Yield","value":14.60},{"date":"2022-09","series":"Yield","value":14.34},{"date":"2022-10","series":"Yield","value":14.40},{"date":"2022-11","series":"Yield","value":14.31},{"date":"2022-12","series":"Yield","value":13.69},
{"date":"2023-01","series":"Yield","value":14.23},{"date":"2023-02","series":"Yield","value":14.95},{"date":"2023-03","series":"Yield","value":14.38},{"date":"2023-04","series":"Yield","value":13.81},{"date":"2023-05","series":"Yield","value":13.45},{"date":"2023-06","series":"Yield","value":14.45},{"date":"2023-07","series":"Yield","value":14.95},{"date":"2023-08","series":"Yield","value":15.23},{"date":"2023-09","series":"Yield","value":15.66},{"date":"2023-10","series":"Yield","value":16.15},{"date":"2023-11","series":"Yield","value":15.54},{"date":"2023-12","series":"Yield","value":15.97},
{"date":"2024-01","series":"Yield","value":15.73}
]},
"mark":{"type":"line","strokeWidth":3.5,"strokeJoin":"miter","strokeMiterLimit":4,"clip":true},
"encoding":{
"x":{"field":"date","type":"temporal",
 "scale":{"type":"utc","domain":[{"year":2013,"month":12,"date":19,"utc":true},{"year":2024,"month":1,"date":13,"utc":true}]},
 "axis":{"title":null,"format":"%Y","values":[{"year":2014,"utc":true},{"year":2015,"utc":true},{"year":2016,"utc":true},{"year":2017,"utc":true},{"year":2018,"utc":true},{"year":2019,"utc":true},{"year":2020,"utc":true},{"year":2021,"utc":true},{"year":2022,"utc":true},{"year":2023,"utc":true},{"year":2024,"utc":true}],
  "grid":false,"ticks":false,"domain":true,"domainColor":"#A6A6A6","domainWidth":1.3,"labelFlush":false,"labelFontSize":23,"labelColor":"#404040","labelPadding":18,"labelFont":"Liberation Sans","labelOverlap":false}},
"y":{"field":"value","type":"quantitative",
 "scale":{"domain":[8,28],"nice":false,"zero":false},
 "axis":{"title":null,"values":[8,12,16,20,24,28],"grid":true,"gridColor":"#EDEDED","gridWidth":1.2,"ticks":false,"domain":false,"labelFontSize":23,"labelColor":"#404040","labelPadding":20,"labelFont":"Liberation Sans"}},
"color":{"field":"series","type":"nominal",
 "scale":{"domain":["Bench","Value","Size","Mom","Quality","LowVol","Yield"],"range":["#333333","#0A1EFA","#D9D9D9","#6B7BFF","#8C8C8C","#00CED6","#00C08A"]},
 "legend":{"orient":"none","legendX":25,"legendY":-79,"direction":"horizontal","title":null,"symbolType":"stroke","symbolSize":4900,"symbolStrokeWidth":3.5,"labelFontSize":23,"labelFont":"Liberation Sans","labelColor":"#404040","labelOffset":2,"columnPadding":21,"labelLimit":300}},
"strokeDash":{"field":"series","type":"nominal",
 "scale":{"domain":["Bench","Value","Size","Mom","Quality","LowVol","Yield"],"range":[[10,5],[1,0],[1,0],[1,0],[1,0],[1,0],[1,0]]},
 "legend":{"orient":"none","legendX":25,"legendY":-79,"direction":"horizontal","title":null,"symbolType":"stroke","symbolSize":4900,"symbolStrokeWidth":3.5,"labelFontSize":23,"labelFont":"Liberation Sans","labelColor":"#404040","labelOffset":2,"columnPadding":21,"labelLimit":300}}
}
}
